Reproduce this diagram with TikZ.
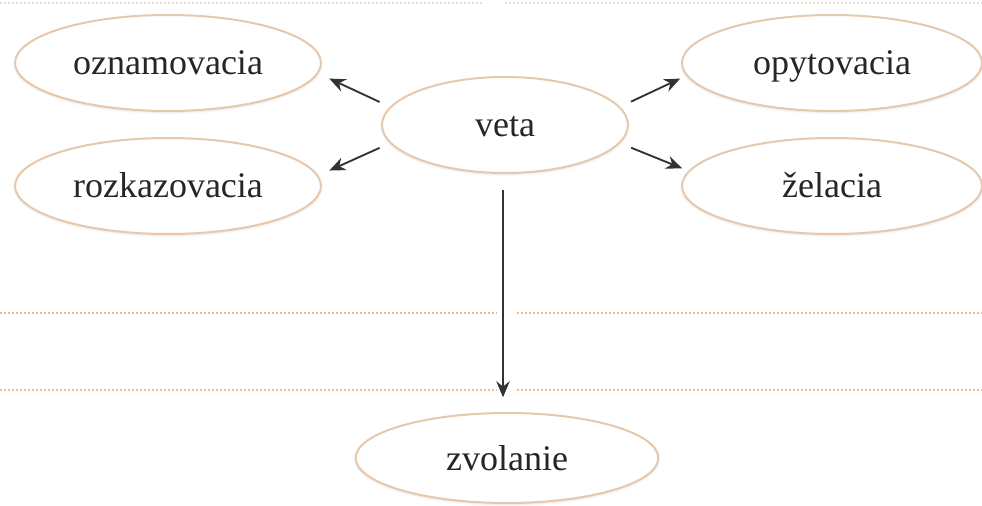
\documentclass[tikz,border=0pt]{standalone}
\usepackage{fontspec}
\setmainfont{Liberation Serif}
\usetikzlibrary{shapes.geometric,arrows.meta,shadows.blur}

\definecolor{rimtan}{RGB}{230,200,172}
\definecolor{dotorange}{RGB}{238,186,140}
\definecolor{dotgrey}{RGB}{226,222,218}

\tikzset{every picture/.style={line width=0.75pt}}
\tikzset{
  kind/.style={ellipse,draw=rimtan,line width=1.5pt,fill=white,
    minimum width=229.5pt,minimum height=72pt,inner sep=0pt,
    text height=18pt,text depth=0pt,
    blur shadow={shadow xshift=0pt,shadow yshift=-1pt,shadow blur steps=6,shadow opacity=12},
    font=\fontsize{27}{32}\selectfont,text=black!85},
  arr/.style={draw=black!80,line width=1.4pt,-{Stealth[length=12pt,width=10pt]}},
  rule/.style={dotorange,line width=1.5pt,dash pattern=on 1.5pt off 1.5pt},
}

\begin{document}
\begin{tikzpicture}[x=0.75pt,y=0.75pt,yscale=-1,xscale=1]
\useasboundingbox (0,0) rectangle (982,506);

% dotted rules
\draw [dotgrey,line width=1.5pt,dash pattern=on 1.5pt off 1.5pt] (0,3) -- (482,3) (505,3) -- (982,3);
\draw [rule] (0,313) -- (497,313) (517,313) -- (982,313);
\draw [rule] (0,390) -- (497,390) (517,390) -- (982,390);

% Nodes
\node [kind] (ozn) at (168,63) {oznamovacia};
\node [kind] (rozk) at (168,186) {rozkazovacia};
\node [kind,minimum width=184.5pt] (veta) at (505,125) {veta};
\node [kind,minimum width=225pt] (opyt) at (832,63) {opytovacia};
\node [kind,minimum width=225pt] (zel) at (832,186) {želacia};
\node [kind,minimum width=227pt,minimum height=67.5pt] (zvol) at (507,458) {zvolanie};
\coordinate (axis) at (503,0);

% Arrows
\draw [arr,shorten <=8.5pt,shorten >=9pt] (veta.171) -- (ozn.-4.6);
\draw [arr,shorten <=8.5pt,shorten >=9pt] (veta.189) -- (rozk.4.6);
\draw [arr,shorten <=9pt,shorten >=5pt] (veta.9) -- (opyt.185.7);
\draw [arr,shorten <=9pt,shorten >=5pt] (veta.-9) -- (zel.174.3);
\draw [arr,shorten <=12pt,shorten >=11pt] (veta.south -| axis) -- (zvol.north -| axis);

\end{tikzpicture}
\end{document}
